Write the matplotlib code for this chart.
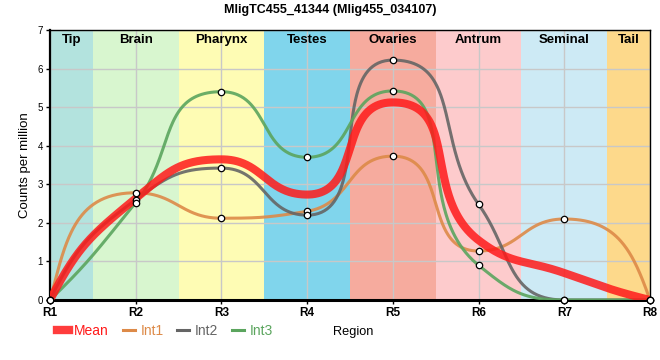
import numpy as np
import matplotlib
matplotlib.use("Agg")
import matplotlib.pyplot as plt
from matplotlib.lines import Line2D

plt.rcParams['font.family'] = ['Liberation Sans', 'DejaVu Sans']

regions = ["R1", "R2", "R3", "R4", "R5", "R6", "R7", "R8"]
int1 = [0, 2.78, 2.12, 2.30, 3.73, 1.27, 2.10, 0]
int2 = [0, 2.60, 3.42, 2.20, 6.22, 2.48, 0, 0]
int3 = [0, 2.52, 5.40, 3.70, 5.42, 0.90, 0, 0]
mean = list(np.mean([int1, int2, int3], axis=0))

bands = ["Tip", "Brain", "Pharynx", "Testes", "Ovaries", "Antrum", "Seminal", "Tail"]
band_edges = [0, 0.5, 1.5, 2.5, 3.5, 4.5, 5.5, 6.5, 7]
band_colors = ["#b3e3de", "#d8f6cf", "#fefcb4", "#80d5ec", "#f6ab9e", "#fdcbcc", "#cdeaf5", "#fdd98b"]

W, H = 660, 360
AX_L, AX_R, AX_T, AX_B = 50, 650, 30, 300
XMAX, YMAX = 7, 7
SX = (AX_R - AX_L) / XMAX   # pixels per x unit
SY = (AX_B - AX_T) / YMAX   # pixels per y unit


def smooth(x, y, n=100, k=0.45, cap=0.8):
    x = np.asarray(x, float); y = np.asarray(y, float)
    h = np.diff(x); s = np.diff(y) / h
    N = len(x)
    m = np.zeros(N)
    for i in range(1, N - 1):
        if s[i - 1] * s[i] > 0:
            p = (s[i - 1] * h[i] + s[i] * h[i - 1]) / (h[i - 1] + h[i])
            m[i] = np.sign(p) * min(2 * abs(s[i - 1]), 2 * abs(s[i]), abs(p))
    for i, j, sec in ((0, 1, s[0]), (N - 1, N - 2, s[-1])):
        v = 3 * sec - 2 * m[j]
        if v * sec <= 0:
            v = 0.0
        if abs(v) > 3 * abs(sec):
            v = 3 * sec
        m[i] = v
    xs, ys = [], []
    t = np.linspace(0, 1, n)
    for i in range(N - 1):
        L = np.hypot(h[i] * SX, (y[i + 1] - y[i]) * SY) * k
        hs = []
        for j in (i, i + 1):
            u = np.array([SX, m[j] * SY]); u = u / np.hypot(*u) * L
            d = np.array([u[0] / SX, u[1] / SY])
            if d[0] > cap * h[i]:
                d = d * cap * h[i] / d[0]
            hs.append(d)
        P0 = np.array([x[i], y[i]]); P3 = np.array([x[i + 1], y[i + 1]])
        P1 = P0 + hs[0]; P2 = P3 - hs[1]
        b0 = (1 - t) ** 3; b1 = 3 * t * (1 - t) ** 2; b2 = 3 * t ** 2 * (1 - t); b3 = t ** 3
        xs.append(b0 * P0[0] + b1 * P1[0] + b2 * P2[0] + b3 * P3[0])
        ys.append(b0 * P0[1] + b1 * P1[1] + b2 * P2[1] + b3 * P3[1])
    return np.concatenate(xs), np.concatenate(ys)


fig = plt.figure(figsize=(W / 100, H / 100), dpi=100)
ax = fig.add_axes([AX_L / W, 1 - AX_B / H, (AX_R - AX_L) / W, (AX_B - AX_T) / H])
xpos = np.arange(len(regions))

for i, (b, c) in enumerate(zip(bands, band_colors)):
    ax.axvspan(band_edges[i], band_edges[i + 1], color=c, zorder=0, lw=0)
    ax.text((band_edges[i] + band_edges[i + 1]) / 2, YMAX - 10 / SY, b, ha='center', va='center',
            fontsize=9.5, fontweight='bold', zorder=5)

ax.set_xlim(0, XMAX)
ax.set_ylim(0, YMAX)
ax.grid(True, color='#c8c8c8', lw=1, zorder=1)

series = [("Int1", int1, "#dd8a48"), ("Int2", int2, "#656565"), ("Int3", int3, "#5ba55e")]
for name, vals, col in series:
    sx_, sy_ = smooth(xpos, vals)
    ax.plot(sx_, sy_, color=col, lw=2.2, alpha=0.9, zorder=3, solid_capstyle='round')
mx, my = smooth(xpos, mean)
ax.plot(mx, my, color='#ff1a1a', lw=5.8, alpha=0.85, zorder=4, solid_capstyle='butt')
for name, vals, col in series:
    ax.plot(xpos, vals, 'o', ms=4.6, mfc='white', mec='black', mew=0.9, zorder=6, clip_on=False)

ax.set_xticks(xpos)
ax.set_xticklabels(regions, fontsize=8.5, fontweight='bold')
ax.set_yticks(range(YMAX + 1))
ax.set_yticklabels([str(i) for i in range(YMAX + 1)], fontsize=7)
ax.tick_params(axis='both', length=3, width=1, pad=2)
ax.set_ylabel("Counts per million", fontsize=9.5, labelpad=5)
for side in ['top', 'right']:
    ax.spines[side].set_linewidth(1)
ax.spines['left'].set_linewidth(1.6)
ax.spines['bottom'].set_linewidth(2.2)

fig.text(0.5, 1 - 10 / H, "MligTC455_41344 (Mlig455_034107)", ha='center', va='center',
         fontsize=9, fontweight='bold')
fig.text(353 / W, 1 - 332 / H, "Region", ha='center', va='center', fontsize=9.2)

handles = [Line2D([], [], color='#ff1a1a', lw=6, alpha=0.85, solid_capstyle='projecting')] + \
          [Line2D([], [], color=c, lw=2.2) for _, _, c in series]
labels = ["Mean"] + [s[0] for s in series]
leg = fig.legend(handles, labels, loc='center left', bbox_to_anchor=(57 / W, 1 - 331 / H),
                 ncol=4, frameon=False, fontsize=10, handlelength=0.85,
                 handletextpad=0.4, columnspacing=1.0, borderpad=0, borderaxespad=0)
for t, c in zip(leg.get_texts(), ['#ff1a1a'] + [s[2] for s in series]):
    t.set_color(c)

fig.savefig("out.png", dpi=100)
